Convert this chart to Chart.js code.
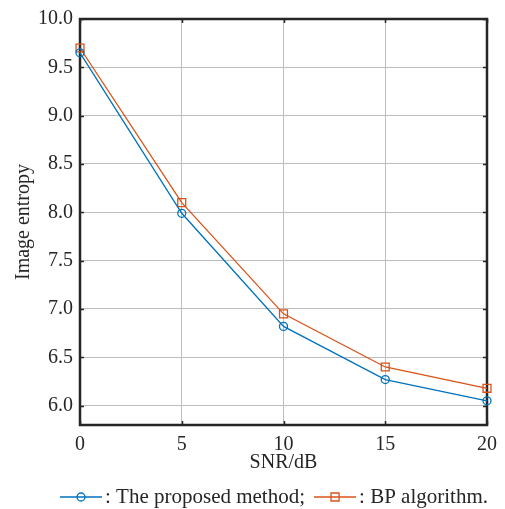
<!DOCTYPE html>
<html>
<head>
<meta charset="utf-8">
<script src="https://cdn.jsdelivr.net/npm/chart.js@4.4.1/dist/chart.umd.min.js"></script>
<style>
  html, body { margin: 0; padding: 0; background: #fff; }
  #wrap { width: 505px; height: 509px; }
</style>
</head>
<body>
<div id="wrap"><canvas id="chart" width="505" height="509"></canvas></div>
<script>
// SNR values (dB) on the x axis
const snr = [0, 5, 10, 15, 20];
// image entropy for each method
const proposed = [9.65, 7.99, 6.82, 6.27, 6.05];
const bpAlgo = [9.70, 8.10, 6.95, 6.40, 6.18];
const seriesNames = [": The proposed method;", ": BP algorithm."];
const yTicks = [6.0, 6.5, 7.0, 7.5, 8.0, 8.5, 9.0, 9.5, 10.0];
const xTicks = [0, 5, 10, 15, 20];

const BLUE = "#0072BD";
const RED = "#D95319";
const FONT = "'Liberation Serif', 'Times New Roman', serif";

// box frame plus inward tick marks on all four sides
const framePlugin = {
  id: "frame",
  beforeDatasetsDraw(chart) {
    const { ctx, chartArea: a, scales } = chart;
    ctx.save();
    ctx.strokeStyle = "#262626";
    ctx.lineWidth = 1.5;
    ctx.beginPath();
    xTicks.forEach(v => {
      const x = Math.round(scales.x.getPixelForValue(v)) + 0.5;
      ctx.moveTo(x, a.bottom); ctx.lineTo(x, a.bottom - 4);
      ctx.moveTo(x, a.top); ctx.lineTo(x, a.top + 4);
    });
    yTicks.forEach(v => {
      const y = Math.round(scales.y.getPixelForValue(v)) + 0.5;
      ctx.moveTo(a.left, y); ctx.lineTo(a.left + 4, y);
      ctx.moveTo(a.right, y); ctx.lineTo(a.right - 4, y);
    });
    ctx.stroke();
    ctx.lineWidth = 2.5;
    ctx.strokeRect(a.left, a.top, a.right - a.left, a.bottom - a.top);
    ctx.restore();
  }
};

// legend row under the x title: line + marker, then the label
const legendPlugin = {
  id: "lineLegend",
  afterDraw(chart) {
    const ctx = chart.ctx;
    const y = 497;
    ctx.save();
    ctx.font = "21px " + FONT;
    ctx.textBaseline = "middle";
    let x = 60;
    chart.data.datasets.forEach((ds, i) => {
      ctx.strokeStyle = ds.borderColor;
      ctx.lineWidth = 1.3;
      ctx.beginPath();
      ctx.moveTo(x, y); ctx.lineTo(x + 42, y);
      ctx.stroke();
      ctx.beginPath();
      if (ds.pointStyle === "rect") {
        ctx.rect(x + 17, y - 4, 8, 8);
      } else {
        ctx.arc(x + 21, y, 4, 0, Math.PI * 2);
      }
      ctx.stroke();
      ctx.fillStyle = "#262626";
      ctx.fillText(ds.label, x + 45, y);
      x += 45 + ctx.measureText(ds.label).width + 9;
    });
    ctx.restore();
  }
};

const toPoints = vals => vals.map((v, i) => ({ x: snr[i], y: v }));

new Chart(document.getElementById("chart"), {
  type: "line",
  data: {
    datasets: [
      {
        label: seriesNames[0],
        data: toPoints(proposed),
        borderColor: BLUE,
        borderWidth: 1.3,
        pointStyle: "circle",
        pointRadius: 4,
        pointBorderWidth: 1.3,
        pointBorderColor: BLUE,
        pointBackgroundColor: "transparent",
        tension: 0,
        clip: false
      },
      {
        label: seriesNames[1],
        data: toPoints(bpAlgo),
        borderColor: RED,
        borderWidth: 1.3,
        pointStyle: "rect",
        pointRadius: 5.6,
        pointBorderWidth: 1.3,
        pointBorderColor: RED,
        pointBackgroundColor: "transparent",
        tension: 0,
        clip: false
      }
    ]
  },
  options: {
    responsive: false,
    animation: false,
    layout: { padding: { top: 19, right: 17, bottom: 29, left: 0 } },
    plugins: {
      legend: { display: false },
      tooltip: { enabled: false }
    },
    scales: {
      x: {
        type: "linear",
        min: 0,
        max: 20,
        afterBuildTicks: s => { s.ticks = xTicks.map(v => ({ value: v })); },
        afterFit: s => { s.height = 55; },
        border: { display: false },
        grid: { color: "#bdbdbd", lineWidth: 1, drawTicks: false },
        ticks: {
          padding: 8,
          color: "#262626",
          font: { family: FONT, size: 20 },
          callback: v => String(v)
        },
        title: {
          display: true,
          text: "SNR/dB",
          color: "#262626",
          font: { family: FONT, size: 20 },
          padding: { top: 0, bottom: 5 }
        }
      },
      y: {
        type: "linear",
        min: 5.8,
        max: 10,
        afterBuildTicks: s => { s.ticks = yTicks.map(v => ({ value: v })); },
        afterFit: s => { s.width = 80; },
        border: { display: false },
        grid: { color: "#bdbdbd", lineWidth: 1, drawTicks: false },
        ticks: {
          padding: 7,
          color: "#262626",
          font: { family: FONT, size: 20 },
          callback: v => v.toFixed(1)
        },
        title: {
          display: true,
          text: "Image entropy",
          color: "#262626",
          font: { family: FONT, size: 20 },
          padding: { top: 12, bottom: 0 }
        }
      }
    }
  },
  plugins: [framePlugin, legendPlugin]
});
</script>
</body>
</html>
